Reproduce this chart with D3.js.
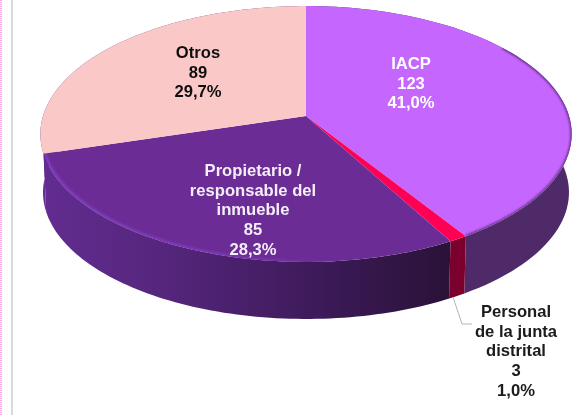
<!DOCTYPE html>
<html><head><meta charset="utf-8">
<script src="https://cdn.jsdelivr.net/npm/d3@7"></script>
<style>html,body{margin:0;padding:0;background:#fff}svg{display:block}</style>
</head><body><svg id="c" width="587" height="415"></svg>
<script>
const categories = ["IACP","Personal de la junta distrital","Propietario / responsable del inmueble","Otros"];
const values = [123,3,85,89];
const percents = ["41,0%","1,0%","28,3%","29,7%"];
const labelLines = [["IACP"],["Personal","de la junta","distrital"],["Propietario /","responsable del","inmueble"],["Otros"]];
const topColors = ["#c566ff","#ff0055","#6b2c96","#fbc8c8"];
const textColors = ["#ffffff","#1a1a1a","#f4eef8","#111111"];
const labelX = [411,516,253,198];
const labelY = [69,317,176,58];

const W=587,H=415,svg=d3.select("#c");
const cx=306, y0=116, R=263, S=125.4, k=0.1406;
const depthY=174.5, depthS=0.99;
const proj=(a,s,oy)=>{const u=Math.sin(a),v=-Math.cos(a),d=1-k*v;
  return [cx+s*R*u/d, oy+s*S*v/d];};
const arcs=d3.pie().sort(null).value((d,i)=>values[i])(values);
const sample=(a,b,n=80)=>d3.range(n+1).map(i=>a+(b-a)*i/n);
const line=d3.line();

const defs=svg.append("defs");
const g1=defs.append("linearGradient").attr("id","sideP").attr("gradientUnits","userSpaceOnUse")
 .attr("x1",45).attr("x2",447).attr("y1",0).attr("y2",0);
[[0,"#622c90"],[.3,"#55267c"],[.65,"#3f1b5c"],[1,"#2a1238"]].forEach(s=>g1.append("stop").attr("offset",s[0]).attr("stop-color",s[1]));
const g3=defs.append("linearGradient").attr("id","bev").attr("gradientUnits","userSpaceOnUse")
 .attr("x1",45).attr("x2",330).attr("y1",0).attr("y2",0);
[[0,"#8440c4"],[.6,"#7f3cbb"],[1,"#6b2c96"]].forEach(s=>g3.append("stop").attr("offset",s[0]).attr("stop-color",s[1]));
defs.append("filter").attr("id","soft").attr("x","-10%").attr("y","-10%").attr("width","120%").attr("height","120%")
 .append("feGaussianBlur").attr("stdDeviation",0.8);
defs.append("filter").attr("id","txt").append("feGaussianBlur").attr("stdDeviation",0.35);

// page edge
svg.append("line").attr("x1",1).attr("x2",1).attr("y1",0).attr("y2",H)
 .attr("stroke","#f5a0e8").attr("stroke-width",2).attr("stroke-dasharray","1 1");
svg.append("line").attr("x1",12).attr("x2",12).attr("y1",0).attr("y2",H)
 .attr("stroke","#d9d9d9").attr("stroke-width",2);

// sides
const sideFill=["#4f2a68","#7c002e","url(#sideP)","#622c90"];
arcs.forEach((d,i)=>{
  const as=sample(d.startAngle,d.endAngle);
  const pts=as.map(a=>proj(a,1,y0)).concat(as.slice().reverse().map(a=>proj(a,depthS,depthY)));
  svg.append("path").attr("d",line(pts)+"Z").attr("fill",sideFill[i]);
});
// tops
arcs.forEach((d,i)=>{
  const pts=[[cx,y0]].concat(sample(d.startAngle,d.endAngle).map(a=>proj(a,1,y0)));
  svg.append("path").attr("d",line(pts)+"Z").attr("fill",topColors[i]);
});
// bevel highlights
const clip=defs.append("clipPath").attr("id","pc");
clip.append("path").attr("d",line([[cx,y0]].concat(sample(arcs[2].startAngle,arcs[2].endAngle).map(a=>proj(a,1,y0))))+"Z");
svg.append("g").attr("clip-path","url(#pc)").append("path")
 .attr("d",line(sample(Math.PI*0.98,arcs[2].endAngle).map(a=>proj(a,0.995,y0))))
 .attr("fill","none").attr("stroke","url(#bev)").attr("stroke-width",2.5).attr("filter","url(#soft)");
const clipI=defs.append("clipPath").attr("id","ic");
clipI.append("path").attr("d",line([[cx,y0]].concat(sample(arcs[0].startAngle,arcs[0].endAngle).map(a=>proj(a,1,y0))))+"Z");
svg.append("g").attr("clip-path","url(#ic)").append("path")
 .attr("d",line(sample(Math.PI*0.3,arcs[0].endAngle).map(a=>proj(a,1,y0))))
 .attr("fill","none").attr("stroke","#5a2f78").attr("stroke-width",2.5).attr("filter","url(#soft)");

// leader
svg.append("path").attr("d",line([[453,297],[462,324],[472,324]]))
 .attr("fill","none").attr("stroke","#b5b5b5").attr("stroke-width",1);

// labels
arcs.forEach((d,i)=>{
  const lines=labelLines[i].concat([String(values[i]),percents[i]]);
  const t=svg.append("text").attr("text-anchor","middle")
    .attr("font-family","Liberation Sans, Arial, sans-serif").attr("font-weight","bold")
    .attr("font-size",16.6).attr("fill",textColors[i]).attr("filter","url(#txt)");
  lines.forEach((s,j)=>t.append("tspan").attr("x",labelX[i]).attr("y",labelY[i]+j*19.7).text(s));
});
</script></body></html>
